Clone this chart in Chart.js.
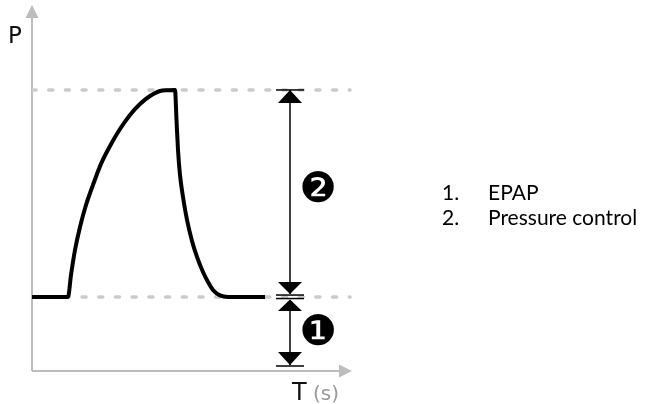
<!DOCTYPE html>
<html>
<head>
<meta charset="utf-8">
<script src="https://cdn.jsdelivr.net/npm/chart.js@4.4.0/dist/chart.umd.min.js"></script>
<style>
  body { margin: 0; background: #fff; }
  #wrap { width: 649px; height: 404px; position: relative; }
</style>
</head>
<body>
<div id="wrap"><canvas id="canvas"></canvas></div>
<script>
// time (s) and pressure values
const timeValues = [0, 0.36, 0.39, 0.43, 0.48, 0.54, 0.61, 0.69, 0.78, 0.88, 0.98, 1.08, 1.18, 1.28, 1.36, 1.43,
  1.445, 1.46, 1.48, 1.51, 1.55, 1.60, 1.65, 1.71, 1.76, 1.81, 1.88, 1.96, 2.33];
const pressureValues = [5, 5, 6.49, 8.18, 9.74, 11.22, 12.58, 14.0, 15.21, 16.36, 17.31, 18.05, 18.59, 18.93, 18.98, 19,
  16.97, 14.94, 13.25, 11.76, 10.21, 8.79, 7.71, 6.69, 6.02, 5.48, 5.11, 5, 5];

const epap = 5;
const peak = 19;
const guideEnd = 3.18;
const arrowAt = 2.58;

const legendNumbers = ['1.', '2.'];
const legendLabels = ['EPAP', 'Pressure control'];
const markers = ['\u2776', '\u2777'];

const curve = timeValues.map((t, i) => ({ x: t, y: pressureValues[i] }));

const tri = (ctx, x, tipY, baseY, half) => {
  ctx.beginPath();
  ctx.moveTo(x, tipY);
  ctx.lineTo(x - half, baseY);
  ctx.lineTo(x + half, baseY);
  ctx.closePath();
  ctx.fill();
};

const hline = (ctx, x, y, half) => {
  ctx.beginPath();
  ctx.moveTo(x - half, y);
  ctx.lineTo(x + half, y);
  ctx.stroke();
};

const drawings = {
  id: 'drawings',
  beforeDatasetsDraw(chart) {
    const { ctx, chartArea } = chart;
    const left = chartArea.left, bottom = chartArea.bottom;
    ctx.save();
    ctx.strokeStyle = '#bdbdbd';
    ctx.fillStyle = '#bdbdbd';
    ctx.lineWidth = 2;
    // y axis
    ctx.beginPath();
    ctx.moveTo(left, bottom);
    ctx.lineTo(left, 14);
    ctx.stroke();
    tri(ctx, left, 5, 18, 6.5);
    // x axis
    ctx.beginPath();
    ctx.moveTo(left, bottom);
    ctx.lineTo(chartArea.right - 10, bottom);
    ctx.stroke();
    ctx.beginPath();
    ctx.moveTo(chartArea.right, bottom);
    ctx.lineTo(chartArea.right - 13, bottom - 6.5);
    ctx.lineTo(chartArea.right - 13, bottom + 6.5);
    ctx.closePath();
    ctx.fill();
    ctx.restore();
  },
  afterDraw(chart) {
    const { ctx } = chart;
    const xs = chart.scales.x, ys = chart.scales.y;
    const x = xs.getPixelForValue(arrowAt);
    const yTop = ys.getPixelForValue(peak);
    const yMid = ys.getPixelForValue(epap);
    const yBot = ys.getPixelForValue(0);
    ctx.save();
    ctx.strokeStyle = '#000';
    ctx.fillStyle = '#000';
    ctx.lineWidth = 1.5;
    // upper dimension arrow (pressure control)
    hline(ctx, x, yTop, 14);
    tri(ctx, x, yTop, yTop + 13, 12);
    ctx.beginPath();
    ctx.moveTo(x, yTop);
    ctx.lineTo(x, yMid - 3);
    ctx.stroke();
    tri(ctx, x, yMid - 3, yMid - 15, 12);
    hline(ctx, x, yMid - 2, 14);
    hline(ctx, x, yMid + 1.5, 14);
    // lower dimension arrow (EPAP)
    tri(ctx, x, yMid + 2.5, yMid + 14, 12);
    ctx.beginPath();
    ctx.moveTo(x, yMid + 3);
    ctx.lineTo(x, yBot - 6);
    ctx.stroke();
    tri(ctx, x, yBot - 6, yBot - 19, 12);
    hline(ctx, x, yBot - 5, 14);

    // circled numbers
    ctx.font = '42px "DejaVu Sans"';
    ctx.textAlign = 'center';
    ctx.textBaseline = 'middle';
    ctx.fillText(markers[1], x + 28, (yTop + yMid) / 2 - 2);
    ctx.fillText(markers[0], x + 28, (yMid + yBot) / 2);

    // axis labels
    ctx.textAlign = 'left';
    ctx.textBaseline = 'alphabetic';
    ctx.fillStyle = '#111';
    ctx.font = '23px "DejaVu Sans"';
    ctx.fillText('P', 8, 43);
    ctx.font = '24px "DejaVu Sans"';
    ctx.fillText('T', 292, 400);
    ctx.fillStyle = '#999';
    ctx.font = '20px "DejaVu Sans"';
    ctx.fillText('(s)', 313, 400);

    // list on the right
    ctx.fillStyle = '#000';
    ctx.font = '21px Lato';
    legendNumbers.forEach((n, i) => {
      ctx.fillText(n, 442, 200 + i * 25);
      ctx.fillText(legendLabels[i], 488, 200 + i * 25);
    });
    ctx.restore();
  }
};

const guide = (p) => ({
  data: [{ x: 0, y: p }, { x: guideEnd, y: p }],
  borderColor: '#cbcbcb',
  borderWidth: 3.5,
  borderDash: [4, 12.7],
  borderCapStyle: 'round',
  pointRadius: 0,
  order: 2
});

let myGraph = new Chart(document.querySelector('#canvas'), {
  type: 'line',
  data: {
    datasets: [
      {
        data: curve,
        borderColor: '#000',
        borderWidth: 4,
        cubicInterpolationMode: 'monotone',
        borderJoinStyle: 'round',
        pointRadius: 0,
        order: 1
      },
      guide(peak),
      guide(epap)
    ]
  },
  options: {
    responsive: true,
    maintainAspectRatio: false,
    animation: false,
    layout: { padding: { left: 32, right: 297, top: 16, bottom: 33 } },
    scales: {
      x: { type: 'linear', min: 0, max: 3.2, display: false },
      y: { min: 0, max: 24, display: false }
    },
    plugins: { legend: { display: false }, tooltip: { enabled: false } }
  },
  plugins: [drawings]
});
</script>
</body>
</html>
